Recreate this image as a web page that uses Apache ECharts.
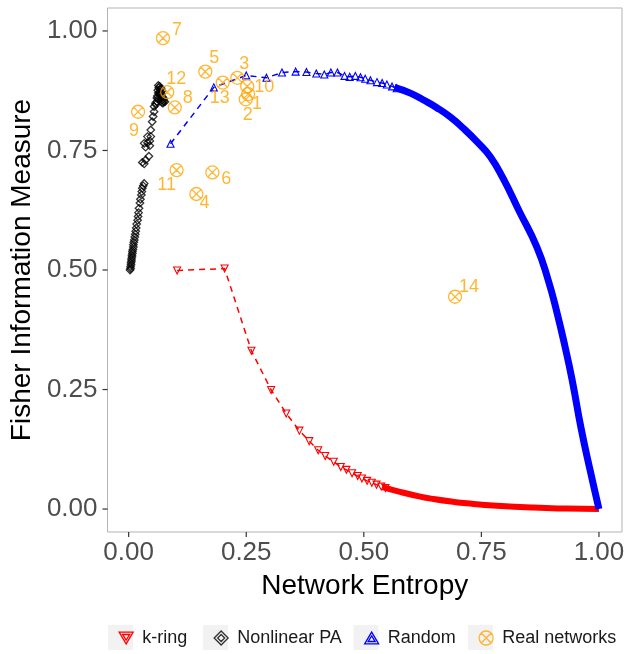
<!DOCTYPE html>
<html>
<head>
<meta charset="utf-8">
<script src="https://cdn.jsdelivr.net/npm/echarts@6/dist/echarts.min.js"></script>
<style>
  html, body { margin: 0; padding: 0; background: #fff; }
  #chart { width: 633px; height: 654px; }
</style>
</head>
<body>
<div id="chart"></div>
<script>
// ---- data ----
const xTicks = [0, 0.25, 0.5, 0.75, 1];
const yTicks = [0, 0.25, 0.5, 0.75, 1];

// k-ring: sparse triangles on the dashed line
const kRingX = [0.103, 0.204, 0.261, 0.303, 0.335, 0.363, 0.384, 0.403, 0.418, 0.436, 0.451, 0.463, 0.475, 0.487, 0.496, 0.507, 0.517, 0.527, 0.537, 0.546];
const kRingY = [0.499, 0.503, 0.331, 0.249, 0.200, 0.164, 0.142, 0.123, 0.111, 0.099, 0.088, 0.082, 0.075, 0.069, 0.064, 0.059, 0.055, 0.051, 0.047, 0.044];
// k-ring: dense run of points (reads as a solid band)
const kRingBandX = [0.540, 0.577, 0.620, 0.648, 0.691, 0.719, 0.783, 0.860, 0.930, 1.000];
const kRingBandY = [0.046, 0.036, 0.026, 0.021, 0.015, 0.012, 0.007, 0.003, 0.001, 0.000];

// Random graphs
const randomX = [0.089, 0.181, 0.250, 0.293, 0.326, 0.355, 0.378, 0.399, 0.416, 0.430, 0.444, 0.459, 0.470, 0.482, 0.493, 0.503, 0.514, 0.528, 0.539, 0.549, 0.560, 0.570];
const randomY = [0.764, 0.882, 0.907, 0.902, 0.913, 0.915, 0.914, 0.911, 0.909, 0.913, 0.913, 0.906, 0.904, 0.906, 0.903, 0.900, 0.897, 0.893, 0.891, 0.888, 0.884, 0.880];
const randomBandX = [0.565, 0.599, 0.626, 0.656, 0.684, 0.711, 0.741, 0.769, 0.796, 0.830, 0.868, 0.892, 0.911, 0.928, 0.943, 0.962, 0.981, 1.000];
const randomBandY = [0.882, 0.870, 0.856, 0.839, 0.820, 0.797, 0.768, 0.737, 0.692, 0.624, 0.548, 0.479, 0.410, 0.339, 0.270, 0.169, 0.082, 0.000];

// Nonlinear preferential attachment
const paX = [0.003, 0.004, 0.004, 0.005, 0.005, 0.006, 0.006, 0.007, 0.007, 0.008, 0.008, 0.009, 0.010, 0.010, 0.011, 0.012, 0.013, 0.014, 0.015, 0.016, 0.017, 0.019, 0.020, 0.021, 0.022, 0.024, 0.025, 0.027, 0.028, 0.029, 0.031, 0.033,
  0.029, 0.033, 0.036, 0.043, 0.036, 0.040, 0.033, 0.045, 0.045, 0.047, 0.040, 0.047, 0.050, 0.052, 0.054, 0.054, 0.057,
  0.060, 0.062, 0.061, 0.063, 0.062, 0.064, 0.063, 0.066, 0.067, 0.068, 0.066, 0.068, 0.070, 0.071, 0.073, 0.074, 0.072, 0.070, 0.071, 0.069, 0.075, 0.077, 0.065, 0.058, 0.060];
const paY = [0.500, 0.503, 0.507, 0.511, 0.515, 0.519, 0.523, 0.527, 0.531, 0.535, 0.539, 0.543, 0.548, 0.553, 0.558, 0.563, 0.569, 0.575, 0.581, 0.588, 0.596, 0.604, 0.612, 0.620, 0.629, 0.640, 0.648, 0.657, 0.664, 0.671, 0.676, 0.681,
  0.725, 0.722, 0.730, 0.738, 0.757, 0.766, 0.765, 0.760, 0.770, 0.779, 0.779, 0.793, 0.810, 0.821, 0.831, 0.842, 0.849,
  0.852, 0.858, 0.864, 0.870, 0.876, 0.881, 0.886, 0.884, 0.878, 0.872, 0.866, 0.860, 0.855, 0.850, 0.849, 0.853, 0.862, 0.868, 0.875, 0.880, 0.858, 0.852, 0.872, 0.846, 0.860];

// Real networks
const realIds = ['1', '2', '3', '4', '5', '6', '7', '8', '9', '10', '11', '12', '13', '14'];
const realX = [0.254, 0.249, 0.231, 0.144, 0.163, 0.178, 0.073, 0.098, 0.020, 0.252, 0.102, 0.082, 0.200, 0.694];
const realY = [0.868, 0.857, 0.902, 0.659, 0.915, 0.704, 0.985, 0.840, 0.831, 0.884, 0.709, 0.872, 0.892, 0.444];
// label nudges (px) for the text next to each real network
const realNudge = [[9, 10], [2, 16], [7, -14], [8, 9], [9, -14], [14, 7], [14, -8], [13, -9], [-4, 19], [17, 1], [-10, 15], [9, -13], [-3, 15], [14, -10]];

// ---- chart ----
const pairs = (xs, ys) => xs.map((x, i) => [x, ys[i]]);
const FONT = '"Liberation Sans", Arial, Helvetica, sans-serif';
const ORANGE = '#FFA500';
const circX = 'path://M10,0 A10,10 0 1,1 -10,0 A10,10 0 1,1 10,0 Z M-7.07,-7.07 L7.07,7.07 M-7.07,7.07 L7.07,-7.07';
const X_MIN = -0.045, X_MAX = 1.049, Y_MIN = -0.048, Y_MAX = 1.048;

const myChart = echarts.init(document.getElementById('chart'), null, { renderer: 'canvas' });

const axisCommon = {
  type: 'value',
  nameLocation: 'middle',
  nameTextStyle: { fontSize: 28, color: '#000', fontFamily: FONT },
  axisLine: { show: false, onZero: false },
  axisTick: { show: false },
  splitLine: { show: false }
};

const legendIcons = {
  'k-ring': 'path://M0,10 L-10,-7 L10,-7 Z M0,4.5 L-5,-3.5 L5,-3.5 Z',
  'Nonlinear PA': 'path://M0,-10 L10,0 L0,10 L-10,0 Z M0,-5 L5,0 L0,5 L-5,0 Z',
  'Random': 'path://M0,-10 L10,7 L-10,7 Z M0,-4.5 L5,3.5 L-5,3.5 Z',
  'Real networks': circX
};
const legendColors = { 'k-ring': 'red', 'Nonlinear PA': 'black', 'Random': 'blue', 'Real networks': ORANGE };
const legendNames = ['k-ring', 'Nonlinear PA', 'Random', 'Real networks'];
const legendLeft = [113.5, 208.5, 359, 473.5];

const option = {
  animation: false,
  backgroundColor: '#fff',
  grid: {
    left: 107, top: 8, right: 11, bottom: 122,
    show: true, borderColor: '#b3b3b3', borderWidth: 1
  },
  xAxis: Object.assign({}, axisCommon, {
    name: 'Network Entropy',
    nameGap: 40,
    min: X_MIN, max: X_MAX,
    axisLabel: {
      customValues: xTicks, margin: 8, fontSize: 26, color: '#4d4d4d', fontFamily: FONT,
      formatter: v => v.toFixed(2)
    }
  }),
  yAxis: Object.assign({}, axisCommon, {
    name: 'Fisher Information Measure',
    nameGap: 66,
    nameRotate: 90,
    min: Y_MIN, max: Y_MAX,
    axisLabel: {
      customValues: yTicks, margin: 10, fontSize: 26, color: '#4d4d4d', fontFamily: FONT,
      formatter: v => v.toFixed(2)
    }
  }),
  legend: legendNames.map((n, i) => ({
    left: legendLeft[i], top: 624,
    itemWidth: 14, itemHeight: 14,
    selectedMode: false,
    textStyle: { fontSize: 18, color: '#1a1a1a', fontFamily: FONT, padding: [0, 0, 0, 4], lineHeight: 18 },
    data: [{
      name: n, icon: legendIcons[n],
      itemStyle: { color: 'transparent', borderColor: legendColors[n], borderWidth: 1.3 }
    }]
  })),
  graphic: legendLeft.map(l => ({
    type: 'rect', z: 0, silent: true,
    shape: { x: l - 5.5, y: 625, width: 25, height: 25 },
    style: { fill: '#f2f2f2' }
  })),
  series: [
    {
      name: 'k-ring', type: 'line', data: pairs(kRingX, kRingY),
      symbol: 'triangle', symbolRotate: 180, symbolSize: 7, showAllSymbol: true,
      lineStyle: { color: 'red', width: 1.5, type: [6, 5] },
      itemStyle: { color: 'transparent', borderColor: 'red', borderWidth: 1.1 },
      emphasis: { disabled: true }, z: 2
    },
    {
      name: 'k-ring', type: 'line', data: pairs(kRingBandX, kRingBandY),
      symbol: 'none', smooth: true,
      lineStyle: { color: 'red', width: 6 },
      emphasis: { disabled: true }, z: 2
    },
    {
      name: 'Nonlinear PA', type: 'scatter', data: pairs(paX, paY),
      symbol: 'diamond', symbolSize: 7.5,
      itemStyle: { color: 'transparent', borderColor: 'black', borderWidth: 1.3 },
      emphasis: { disabled: true }, z: 3
    },
    {
      name: 'Random', type: 'line', data: pairs(randomX, randomY),
      symbol: 'triangle', symbolSize: 7, showAllSymbol: true,
      lineStyle: { color: 'blue', width: 1.5, type: [6, 5] },
      itemStyle: { color: 'transparent', borderColor: 'blue', borderWidth: 1.1 },
      emphasis: { disabled: true }, z: 4
    },
    {
      name: 'Random', type: 'line', data: pairs(randomBandX, randomBandY),
      symbol: 'none', smooth: true,
      lineStyle: { color: 'blue', width: 7 },
      emphasis: { disabled: true }, z: 4
    },
    {
      name: 'Real networks', type: 'scatter', data: pairs(realX, realY),
      symbol: circX, symbolSize: 13,
      itemStyle: { color: 'transparent', borderColor: ORANGE, borderWidth: 1.3 },
      label: {
        show: true, position: 'inside', fontSize: 18, color: ORANGE, fontFamily: FONT,
        formatter: p => realIds[p.dataIndex]
      },
      labelLayout: p => ({ dx: realNudge[p.dataIndex][0], dy: realNudge[p.dataIndex][1] }),
      emphasis: { disabled: true }, z: 5
    }
  ]
};
myChart.setOption(option);

// tick marks just outside the panel, placed with the axes' own conversion
const tickEls = [];
xTicks.forEach(v => {
  const p = myChart.convertToPixel({ gridIndex: 0 }, [v, Y_MIN]);
  tickEls.push({ type: 'line', silent: true, z: 10, shape: { x1: p[0], y1: p[1], x2: p[0], y2: p[1] + 5 }, style: { stroke: '#333', lineWidth: 1.2 } });
});
yTicks.forEach(v => {
  const p = myChart.convertToPixel({ gridIndex: 0 }, [X_MIN, v]);
  tickEls.push({ type: 'line', silent: true, z: 10, shape: { x1: p[0] - 5, y1: p[1], x2: p[0], y2: p[1] }, style: { stroke: '#333', lineWidth: 1.2 } });
});
myChart.setOption({ graphic: option.graphic.concat(tickEls) });
</script>
</body>
</html>
